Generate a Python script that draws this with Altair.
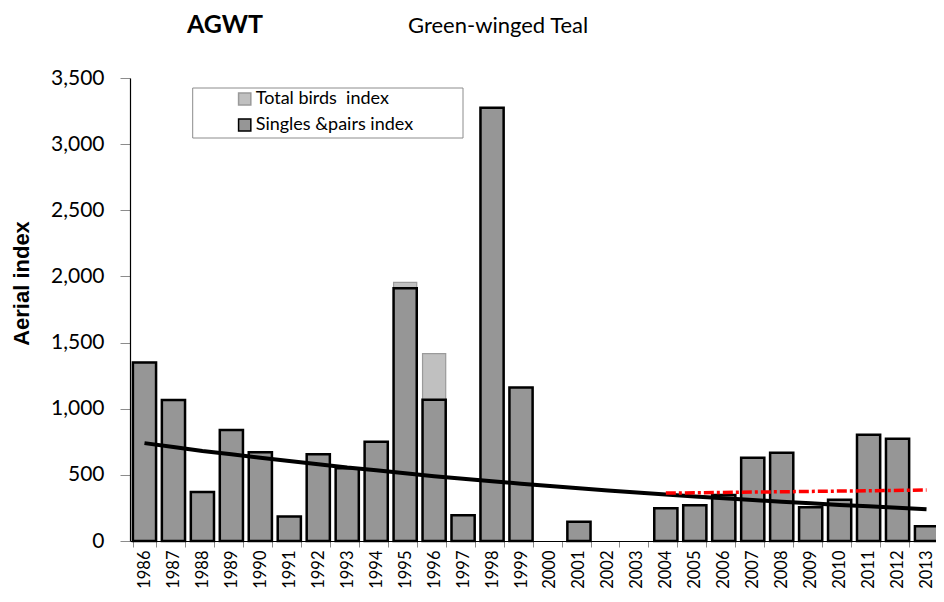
import altair as alt
import pandas as pd

years = ["1986", "1987", "1988", "1989", "1990", "1991", "1992", "1993", "1994", "1995",
         "1996", "1997", "1998", "1999", "2000", "2001", "2002", "2003", "2004", "2005",
         "2006", "2007", "2008", "2009", "2010", "2011", "2012", "2013"]
singles_pairs = [1350, 1065, 370, 840, 670, 185, 655, 550, 750, 1910,
                 1068, 195, 3275, 1160, 0, 145, 0, 0, 247, 270,
                 348, 630, 667, 255, 312, 803, 773, 111]
total_birds = [1350, 1065, 370, 840, 670, 185, 655, 550, 750, 1955,
               1416, 195, 3275, 1160, 0, 145, 0, 0, 247, 270,
               348, 630, 667, 255, 312, 803, 773, 111]
trend_long = [740, 710, 680, 655, 630, 605, 580, 555, 535, 512,
              490, 470, 452, 433, 415, 398, 382, 366, 352, 337,
              323, 310, 297, 285, 273, 262, 251, 240]
recent_years = ["2004", "2013"]
trend_recent = [362, 385]

label_total = "Total birds\u00a0 index"
label_singles = "Singles &pairs index"
title_code = "AGWT"
title_name = "Green-winged Teal"

FONT = "Lato"

df_total = pd.DataFrame({"year": years, "value": total_birds, "series": label_total})
df_singles = pd.DataFrame({"year": years, "value": singles_pairs, "series": label_singles})
df_trend = pd.DataFrame({"year": years, "value": trend_long})
df_recent = pd.DataFrame({"year": recent_years, "value": trend_recent})

x_scale = alt.Scale(domain=years, range=[0, 811], paddingInner=0.2, paddingOuter=0.1)
y_scale = alt.Scale(domain=[0, 3500], nice=False, zero=True)

x_axis = alt.Axis(
    title=None, labelAngle=270, labelAlign="right", labelBaseline="middle",
    labelFontSize=16.5, labelFont=FONT, labelColor="black", labelPadding=3,
    tickBand="extent", tickSize=6, tickColor="#8c8c8c", tickWidth=1,
    domainColor="black", domainWidth=1, grid=False, labelOverlap=False,
)
y_axis = alt.Axis(
    title="Aerial index", titleFont="Liberation Sans", titleFontWeight="bold",
    titleFontSize=22, titleColor="black", titleAngle=270, titleX=-102, titleY=205,
    titleAlign="center", titleBaseline="alphabetic",
    values=[0, 500, 1000, 1500, 2000, 2500, 3000, 3500], format=",d",
    labelFontSize=21, labelFont=FONT, labelColor="black", labelPadding=16,
    tickSize=10, tickColor="#8c8c8c", tickWidth=1,
    domainColor="black", domainWidth=1.2, grid=False,
)

fill_scale = alt.Scale(domain=[label_total, label_singles], range=["#c0c0c0", "#969696"])
stroke_scale = alt.Scale(domain=[label_total, label_singles], range=["#9a9a9a", "#000000"])
legend = alt.Legend(
    title=None, orient="none", legendX=62.7, legendY=9,
    labelFont=FONT, labelFontSize=18, labelColor="black",
    symbolType="square", symbolSize=150, symbolStrokeWidth=1.5,
    symbolOffset=40, labelOffset=2, rowPadding=6, padding=3,
    labelLimit=400,
)

# frame drawn around the legend entries
legend_frame = alt.Chart(pd.DataFrame({"k": [0]})).mark_rect(
    fill="white", stroke="#8c8c8c", strokeWidth=1
).encode(x=alt.value(62.7), x2=alt.value(333), y=alt.value(10), y2=alt.value(60))

total_bars = alt.Chart(df_total).mark_bar(strokeWidth=1.2).encode(
    x=alt.X("year:N", scale=x_scale, axis=x_axis, sort=years),
    y=alt.Y("value:Q", scale=y_scale, axis=y_axis),
    fill=alt.Fill("series:N", scale=fill_scale, legend=legend),
    stroke=alt.Stroke("series:N", scale=stroke_scale, legend=legend),
).transform_filter("datum.value > 0")
singles_bars = alt.Chart(df_singles).mark_bar(strokeWidth=2.5).encode(
    x=alt.X("year:N", sort=years),
    y=alt.Y("value:Q"),
    fill=alt.Fill("series:N"),
    stroke=alt.Stroke("series:N"),
).transform_filter("datum.value > 0")
trend_line = alt.Chart(df_trend).mark_line(color="black", strokeWidth=4).encode(
    x=alt.X("year:N", sort=years),
    y=alt.Y("value:Q"),
)
recent_line = alt.Chart(df_recent).mark_line(
    color="#ff0000", strokeWidth=3.5, strokeDash=[10, 3, 3, 3]
).encode(
    x=alt.X("year:N", sort=years),
    y=alt.Y("value:Q"),
)
code_text = alt.Chart(pd.DataFrame({"t": [title_code]})).mark_text(
    font=FONT, fontSize=25, fontWeight="bold", color="black", align="center", baseline="alphabetic"
).encode(text="t:N", x=alt.value(95), y=alt.value(-45))
name_text = alt.Chart(pd.DataFrame({"t": [title_name]})).mark_text(
    font=FONT, fontSize=22, color="black", align="left", baseline="alphabetic"
).encode(text="t:N", x=alt.value(278), y=alt.value(-45))

chart = alt.layer(
    legend_frame, total_bars, singles_bars, trend_line, recent_line, code_text, name_text
).properties(
    width=806, height=463,
    autosize=alt.AutoSizeParams(type="none"),
    padding={"left": 122, "top": 70, "right": 0, "bottom": 47},
    background="white",
).configure_view(stroke=None)

chart.save("out.html", embed_options={"renderer": "svg", "actions": False})
